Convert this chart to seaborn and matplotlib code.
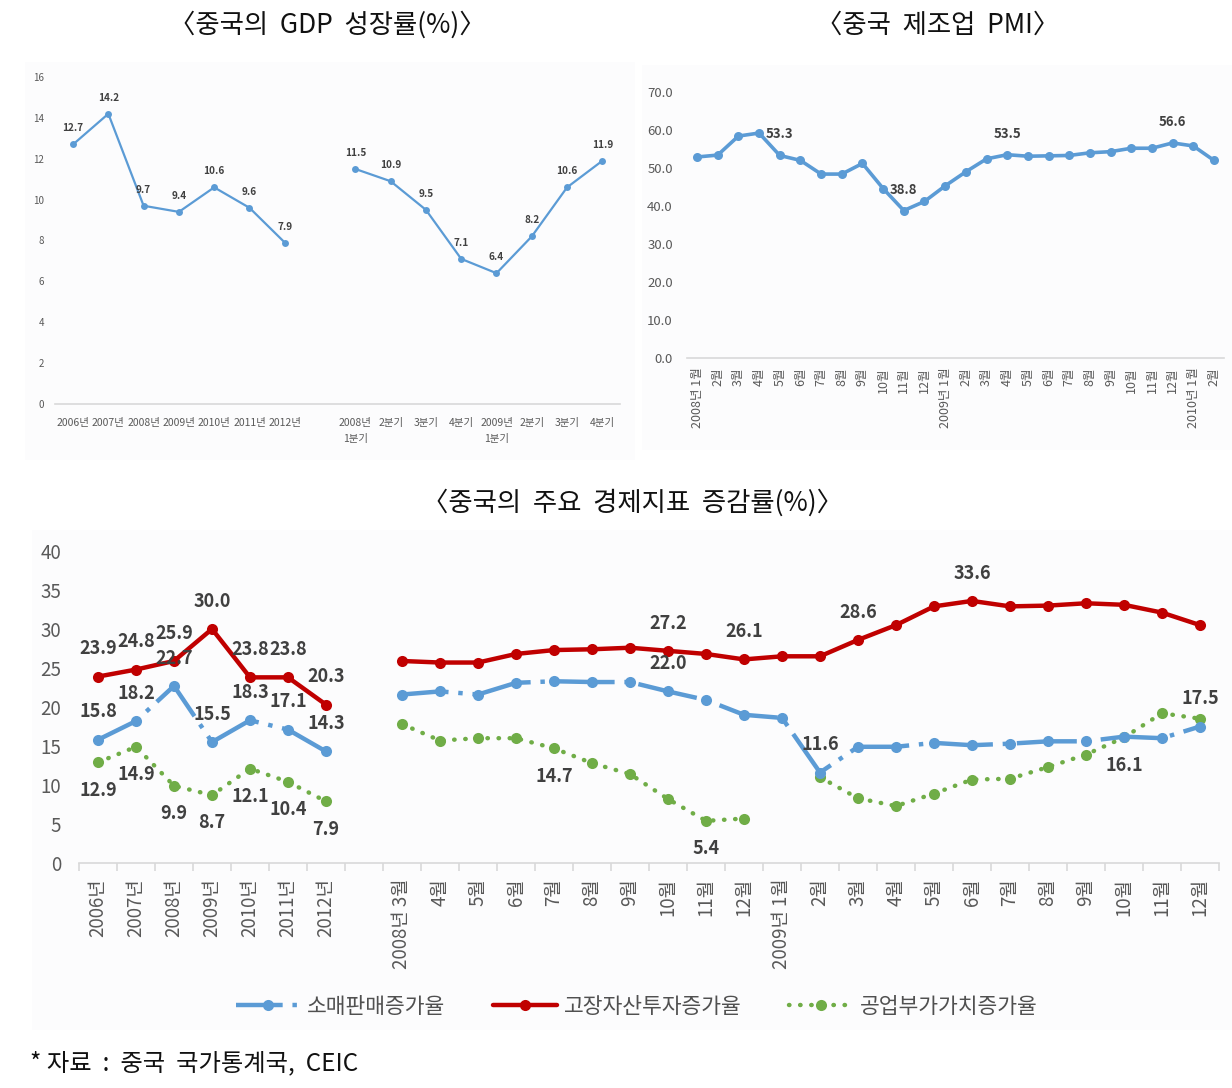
import numpy as np
import pandas as pd
import matplotlib
matplotlib.use("Agg")
import matplotlib.pyplot as plt
import seaborn as sns
from matplotlib.lines import Line2D
from matplotlib.patches import Rectangle

# ---------------- data ----------------
gdp_year_labels = ["2006년", "2007년", "2008년", "2009년", "2010년", "2011년", "2012년"]
gdp_year = [12.7, 14.2, 9.7, 9.4, 10.6, 9.6, 7.9]
gdp_quarter_labels = ["2008년\n1분기", "2분기", "3분기", "4분기", "2009년\n1분기", "2분기", "3분기", "4분기"]
gdp_quarter = [11.5, 10.9, 9.5, 7.1, 6.4, 8.2, 10.6, 11.9]

pmi_labels = ["2008년 1월", "2월", "3월", "4월", "5월", "6월", "7월", "8월", "9월", "10월", "11월", "12월",
              "2009년 1월", "2월", "3월", "4월", "5월", "6월", "7월", "8월", "9월", "10월", "11월", "12월",
              "2010년 1월", "2월"]
pmi = [52.9, 53.4, 58.4, 59.2, 53.3, 52.0, 48.4, 48.4, 51.2, 44.6, 38.8, 41.2,
       45.3, 49.0, 52.4, 53.5, 53.1, 53.2, 53.3, 54.0, 54.3, 55.2, 55.2, 56.6,
       55.8, 52.0]

ind_year_labels = ["2006년", "2007년", "2008년", "2009년", "2010년", "2011년", "2012년"]
ind_month_labels = ["2008년 3월", "4월", "5월", "6월", "7월", "8월", "9월", "10월", "11월", "12월",
                    "2009년 1월", "2월", "3월", "4월", "5월", "6월", "7월", "8월", "9월", "10월", "11월", "12월"]
retail_year = [15.8, 18.2, 22.7, 15.5, 18.3, 17.1, 14.3]
fai_year = [23.9, 24.8, 25.9, 30.0, 23.8, 23.8, 20.3]
iva_year = [12.9, 14.9, 9.9, 8.7, 12.1, 10.4, 7.9]
retail_month = [21.6, 22.0, 21.6, 23.1, 23.3, 23.2, 23.2, 22.0, 20.9, 19.0,
                18.6, 11.6, 14.9, 14.9, 15.4, 15.1, 15.3, 15.6, 15.6, 16.2, 16.0, 17.5]
fai_month = [25.9, 25.7, 25.7, 26.8, 27.3, 27.4, 27.6, 27.2, 26.8, 26.1,
             26.5, 26.5, 28.6, 30.5, 32.9, 33.6, 32.9, 33.0, 33.3, 33.1, 32.1, 30.5]
iva_month = [17.8, 15.7, 16.0, 16.0, 14.7, 12.8, 11.4, 8.2, 5.4, 5.7,
             np.nan, 11.0, 8.3, 7.3, 8.9, 10.7, 10.8, 12.3, 13.9, 16.1, 19.2, 18.5]
series_names = ["소매판매증가율", "고장자산투자증가율", "공업부가가치증가율"]

# labelled points (indices into the category axis of each panel)
pmi_label_idx = [4, 10, 15, 23]
retail_label_idx = [0, 1, 2, 3, 4, 5, 6, 15, 19, 29]
fai_label_idx = [0, 1, 2, 3, 4, 5, 6, 15, 17, 20, 23]
iva_label_idx = [0, 1, 2, 3, 4, 5, 6, 12, 16, 27]

# ---------------- style ----------------
sns.set_theme(style="white")
plt.rcParams["font.family"] = ["Noto Sans CJK KR", "DejaVu Sans"]
plt.rcParams["axes.unicode_minus"] = False

BLUE = "#5B9BD5"
RED = "#C00000"
GREEN = "#70AD47"
TICK = "#595959"
LAB = "#404040"
BASE = "#D9D9D9"

W, H = 1232, 1088
fig = plt.figure(figsize=(W / 100, H / 100), dpi=100)
fig.patch.set_facecolor("white")


def rect(x0, y0, x1, y1):
    return [x0 / W, 1 - y1 / H, (x1 - x0) / W, (y1 - y0) / H]


# faint panel backgrounds (behind the axes)
for (x0, y0, x1, y1) in [(25, 62, 635, 460), (642, 65, 1232, 450), (32, 530, 1232, 1030)]:
    fig.patches.append(Rectangle((x0 / W, 1 - y1 / H), (x1 - x0) / W, (y1 - y0) / H,
                                 transform=fig.transFigure, facecolor="#FCFCFD",
                                 edgecolor="none", zorder=-5))


def style_axes(ax):
    ax.set_facecolor("none")
    ax.set_zorder(2)
    for s in ["top", "right", "left"]:
        ax.spines[s].set_visible(False)
    ax.spines["bottom"].set_color(BASE)
    ax.spines["bottom"].set_linewidth(1.2)
    ax.grid(False)
    ax.set_xlabel("")
    ax.set_ylabel("")


def line(ax, xs, ys, color, lw, ms, ls="-", capstyle="butt"):
    df = pd.DataFrame({"x": xs, "y": ys})
    sns.lineplot(data=df, x="x", y="y", ax=ax, color=color, linewidth=lw, marker="o",
                 markersize=ms, markeredgewidth=0, linestyle=ls, sort=False,
                 estimator=None, dash_capstyle=capstyle, legend=False)


# ---------------- GDP panel ----------------
ax1 = fig.add_axes(rect(55.4, 77, 620, 404))
gdp_cats = gdp_year_labels + [""] + gdp_quarter_labels
x_year = list(range(len(gdp_year)))
x_quarter = list(range(len(gdp_year) + 1, len(gdp_cats)))
line(ax1, x_year, gdp_year, BLUE, 1.6, 5)
line(ax1, x_quarter, gdp_quarter, BLUE, 1.6, 5)
for xs, ys in [(x_year, gdp_year), (x_quarter, gdp_quarter)]:
    for x, y in zip(xs, ys):
        ax1.annotate(f"{y:.1f}", (x, y), xytext=(0, 11.5), textcoords="offset points",
                     ha="center", va="center", fontsize=7.2, fontweight="bold", color=LAB)
style_axes(ax1)
ax1.set_xlim(-0.5, len(gdp_cats) - 0.5)
ax1.set_ylim(0, 16)
ax1.set_yticks(np.arange(0, 17, 2))
ax1.set_yticklabels([str(v) for v in range(0, 17, 2)])
ax1.set_xticks(range(len(gdp_cats)))
ax1.set_xticklabels(gdp_cats)
ax1.tick_params(axis="y", length=0, pad=8, labelsize=7, labelcolor=TICK)
ax1.tick_params(axis="x", length=0, pad=10, labelsize=7.5, labelcolor=TICK)
for t in ax1.get_xticklabels():
    t.set_linespacing(1.75)

# ---------------- PMI panel ----------------
ax2 = fig.add_axes(rect(686.7, 92, 1224.3, 358))
xp = list(range(len(pmi)))
line(ax2, xp, pmi, BLUE, 2.6, 6.5)
for i in pmi_label_idx:
    if i in (4, 10):  # these labels sit to the right of the preceding point
        ax2.annotate(f"{pmi[i]:.1f}", (i - 1, pmi[i - 1]), xytext=(4.5, -1), textcoords="offset points",
                     ha="left", va="center", fontsize=9.5, fontweight="bold", color=LAB)
    else:
        ax2.annotate(f"{pmi[i]:.1f}", (i, pmi[i]), xytext=(0, 15), textcoords="offset points",
                     ha="center", va="center", fontsize=9.5, fontweight="bold", color=LAB)
style_axes(ax2)
ax2.set_xlim(-0.5, len(pmi) - 0.5)
ax2.set_ylim(0, 70)
ax2.set_yticks(np.arange(0, 71, 10))
ax2.set_yticklabels([f"{v:.1f}" for v in range(0, 71, 10)])
ax2.set_xticks(xp)
ax2.set_xticklabels(pmi_labels, rotation=90)
ax2.tick_params(axis="y", length=0, pad=10, labelsize=9.5, labelcolor=TICK)
ax2.tick_params(axis="x", length=0, pad=7, labelsize=9, labelcolor=TICK)

# ---------------- indicators panel ----------------
ax3 = fig.add_axes(rect(79, 551, 1219, 863))
cats3 = ind_year_labels + [""] + ind_month_labels
retail_all = retail_year + [np.nan] + retail_month
fai_all = fai_year + [np.nan] + fai_month
iva_all = iva_year + [np.nan] + iva_month

LW3, MS3 = 3.2, 8
blue_ls = (3.0, (13.5, 2.2, 1.0, 2.2))
green_ls = (0, (0.1, 2.4))


def segments(vals):
    segs, cur = [], []
    for i, v in enumerate(vals):
        if np.isnan(v):
            if cur:
                segs.append(cur)
            cur = []
        else:
            cur.append(i)
    if cur:
        segs.append(cur)
    return segs


for vals, color, ls, cap in [(iva_all, GREEN, green_ls, "round"),
                             (retail_all, BLUE, blue_ls, "butt"),
                             (fai_all, RED, "-", "butt")]:
    for seg in segments(vals):
        line(ax3, seg, [vals[i] for i in seg], color, LW3, MS3, ls, cap)

for idxs, vals, dy in [(fai_label_idx, fai_all, 20), (retail_label_idx, retail_all, 20),
                       (iva_label_idx, iva_all, -20)]:
    for i in idxs:
        ax3.annotate(f"{vals[i]:.1f}", (i, vals[i]), xytext=(0, dy), textcoords="offset points",
                     ha="center", va="center", fontsize=13, fontweight="bold", color=LAB)

style_axes(ax3)
ax3.set_xlim(-0.5, len(cats3) - 0.5)
ax3.set_ylim(0, 40)
ax3.set_yticks(np.arange(0, 41, 5))
ax3.set_yticklabels([str(v) for v in range(0, 41, 5)])
ax3.set_xticks(range(len(cats3)))
ax3.set_xticklabels(cats3, rotation=90)
ax3.set_xticks(np.arange(-0.5, len(cats3), 1.0), minor=True)
ax3.tick_params(axis="y", length=0, pad=13, labelsize=13.5, labelcolor=TICK)
ax3.tick_params(axis="x", which="major", length=0, pad=11, labelsize=13.5, labelcolor=TICK)
ax3.tick_params(axis="x", which="minor", length=6, width=1.2, color=BASE, bottom=True)

handles = [
    Line2D([], [], color=BLUE, lw=LW3, marker="o", markersize=MS3, markeredgewidth=0, linestyle=blue_ls),
    Line2D([], [], color=RED, lw=LW3, marker="o", markersize=MS3, markeredgewidth=0, linestyle="-"),
    Line2D([], [], color=GREEN, lw=LW3, marker="o", markersize=MS3, markeredgewidth=0,
           linestyle=green_ls, dash_capstyle="round"),
]
leg = ax3.legend(handles, series_names, loc="center", bbox_to_anchor=(637 / W, 1 - 1007 / H),
                 bbox_transform=fig.transFigure, ncol=3, frameon=False, fontsize=15.5,
                 handlelength=3.0, columnspacing=2.2, handletextpad=0.3, numpoints=1)
for t in leg.get_texts():
    t.set_color("#505050")

# ---------------- titles / source ----------------
fig.text(327 / W, 1 - 25 / H, "〈중국의  GDP  성장률(%)〉", ha="center", va="center", fontsize=19, color="#111111")
fig.text(938 / W, 1 - 25 / H, "〈중국  제조업  PMI〉", ha="center", va="center", fontsize=19, color="#111111")
fig.text(632 / W, 1 - 503 / H, "〈중국의  주요  경제지표  증감률(%)〉", ha="center", va="center", fontsize=19,
         color="#111111")
fig.text(30 / W, 1 - 1063 / H, "* 자료  :  중국  국가통계국,  CEIC", ha="left", va="center", fontsize=17.5,
         color="#111111")

fig.savefig("out.png", dpi=100, facecolor="white")
